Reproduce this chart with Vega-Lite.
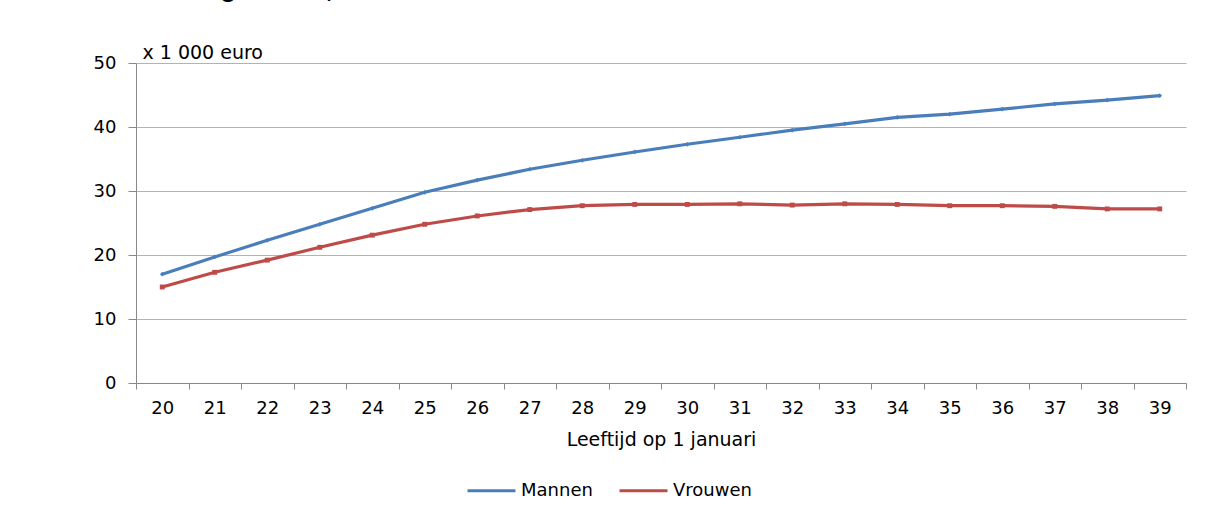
{
  "$schema": "https://vega.github.io/schema/vega-lite/v6.json",
  "width": 1050,
  "height": 320,
  "autosize": {"type": "none"},
  "padding": {"left": 136, "top": 63, "right": 22, "bottom": 126},
  "background": "white",
  "title": {"text": "naar geslacht, 2013", "anchor": "start", "frame": "group", "offset": 41, "dx": 22, "font": "Liberation Sans", "fontSize": 26, "fontWeight": "bold", "color": "#000000"},
  "data": {"values": [
    {"leeftijd": "20", "geslacht": "Mannen", "inkomen": 17.0},
    {"leeftijd": "21", "geslacht": "Mannen", "inkomen": 19.7},
    {"leeftijd": "22", "geslacht": "Mannen", "inkomen": 22.3},
    {"leeftijd": "23", "geslacht": "Mannen", "inkomen": 24.8},
    {"leeftijd": "24", "geslacht": "Mannen", "inkomen": 27.3},
    {"leeftijd": "25", "geslacht": "Mannen", "inkomen": 29.8},
    {"leeftijd": "26", "geslacht": "Mannen", "inkomen": 31.7},
    {"leeftijd": "27", "geslacht": "Mannen", "inkomen": 33.4},
    {"leeftijd": "28", "geslacht": "Mannen", "inkomen": 34.8},
    {"leeftijd": "29", "geslacht": "Mannen", "inkomen": 36.1},
    {"leeftijd": "30", "geslacht": "Mannen", "inkomen": 37.3},
    {"leeftijd": "31", "geslacht": "Mannen", "inkomen": 38.4},
    {"leeftijd": "32", "geslacht": "Mannen", "inkomen": 39.5},
    {"leeftijd": "33", "geslacht": "Mannen", "inkomen": 40.5},
    {"leeftijd": "34", "geslacht": "Mannen", "inkomen": 41.5},
    {"leeftijd": "35", "geslacht": "Mannen", "inkomen": 42.0},
    {"leeftijd": "36", "geslacht": "Mannen", "inkomen": 42.8},
    {"leeftijd": "37", "geslacht": "Mannen", "inkomen": 43.6},
    {"leeftijd": "38", "geslacht": "Mannen", "inkomen": 44.2},
    {"leeftijd": "39", "geslacht": "Mannen", "inkomen": 44.9},
    {"leeftijd": "20", "geslacht": "Vrouwen", "inkomen": 15.0},
    {"leeftijd": "21", "geslacht": "Vrouwen", "inkomen": 17.3},
    {"leeftijd": "22", "geslacht": "Vrouwen", "inkomen": 19.2},
    {"leeftijd": "23", "geslacht": "Vrouwen", "inkomen": 21.2},
    {"leeftijd": "24", "geslacht": "Vrouwen", "inkomen": 23.1},
    {"leeftijd": "25", "geslacht": "Vrouwen", "inkomen": 24.8},
    {"leeftijd": "26", "geslacht": "Vrouwen", "inkomen": 26.1},
    {"leeftijd": "27", "geslacht": "Vrouwen", "inkomen": 27.1},
    {"leeftijd": "28", "geslacht": "Vrouwen", "inkomen": 27.7},
    {"leeftijd": "29", "geslacht": "Vrouwen", "inkomen": 27.9},
    {"leeftijd": "30", "geslacht": "Vrouwen", "inkomen": 27.9},
    {"leeftijd": "31", "geslacht": "Vrouwen", "inkomen": 28.0},
    {"leeftijd": "32", "geslacht": "Vrouwen", "inkomen": 27.8},
    {"leeftijd": "33", "geslacht": "Vrouwen", "inkomen": 28.0},
    {"leeftijd": "34", "geslacht": "Vrouwen", "inkomen": 27.9},
    {"leeftijd": "35", "geslacht": "Vrouwen", "inkomen": 27.7},
    {"leeftijd": "36", "geslacht": "Vrouwen", "inkomen": 27.7},
    {"leeftijd": "37", "geslacht": "Vrouwen", "inkomen": 27.6},
    {"leeftijd": "38", "geslacht": "Vrouwen", "inkomen": 27.2},
    {"leeftijd": "39", "geslacht": "Vrouwen", "inkomen": 27.2}
  ]},
  "encoding": {
    "x": {
      "field": "leeftijd", "type": "ordinal",
      "scale": {"paddingInner": 0, "paddingOuter": 0},
      "axis": {
        "title": "Leeftijd op 1 januari", "titleFont": "DejaVu Sans", "titleFontSize": 19, "titleFontWeight": "normal", "titleColor": "#000000", "titlePadding": 13,
        "labelAngle": 0, "labelFont": "DejaVu Sans", "labelFontSize": 18, "labelColor": "#000000", "labelPadding": 10,
        "tickBand": "extent", "tickSize": 6, "tickColor": "#888888", "domainColor": "#888888", "grid": false
      }
    },
    "y": {
      "field": "inkomen", "type": "quantitative",
      "scale": {"domain": [0, 50], "nice": false},
      "axis": {
        "values": [0, 10, 20, 30, 40, 50],
        "title": "x 1 000 euro", "titleAngle": 0, "titleX": 6, "titleY": -5, "titleAlign": "left", "titleBaseline": "alphabetic",
        "titleFont": "DejaVu Sans", "titleFontSize": 19, "titleFontWeight": "normal", "titleColor": "#000000",
        "labelFont": "DejaVu Sans", "labelFontSize": 18, "labelColor": "#000000", "labelPadding": 12,
        "tickSize": 8, "tickColor": "#888888", "domainColor": "#888888",
        "grid": true, "gridColor": "#b3b3b3", "gridWidth": 1
      }
    },
    "color": {
      "field": "geslacht", "type": "nominal",
      "scale": {"domain": ["Mannen", "Vrouwen"], "range": ["#4a7ebb", "#be4b48"]},
      "legend": {
        "title": null, "orient": "none", "direction": "horizontal", "legendX": 330, "legendY": 402,
        "symbolType": "stroke", "symbolSize": 2300, "symbolStrokeWidth": 3,
        "labelFont": "DejaVu Sans", "labelFontSize": 18, "labelColor": "#000000", "labelOffset": 4, "columnPadding": 20
      }
    }
  },
  "layer": [
    {"mark": {"type": "line", "strokeWidth": 3.2}},
    {"transform": [{"filter": "datum.geslacht === 'Mannen'"}],
     "mark": {"type": "point", "filled": true, "opacity": 1, "shape": "diamond", "size": 22}},
    {"transform": [{"filter": "datum.geslacht === 'Vrouwen'"}],
     "mark": {"type": "point", "filled": true, "opacity": 1, "shape": "square", "size": 24}}
  ],
  "config": {"view": {"stroke": null}}
}
